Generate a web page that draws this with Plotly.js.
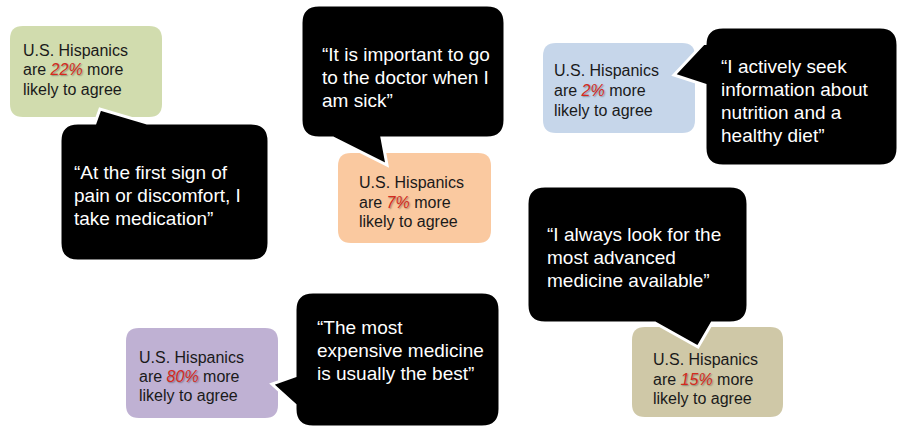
<!DOCTYPE html>
<html>
<head>
<meta charset="utf-8">
<script src="https://cdn.plot.ly/plotly-3.0.1.min.js"></script>
<style>
  html, body { margin: 0; padding: 0; background: #ffffff; }
  #chart { width: 897px; height: 427px; }
</style>
</head>
<body>
<div id="chart"></div>
<script>
// ---- data ----
const statementLines = [
  ["\u201cAt the first sign of", "pain or discomfort, I", "take medication\u201d"],
  ["\u201cIt is important to go", "to the doctor when I", "am sick\u201d"],
  ["\u201cI actively seek", "information about", "nutrition and a", "healthy diet\u201d"],
  ["\u201cThe most", "expensive medicine", "is usually the best\u201d"],
  ["\u201cI always look for the", "most advanced", "medicine available\u201d"]
];
const percents = [22, 7, 2, 80, 15];
const groupLine1 = "U.S. Hispanics";
const groupLine2Pre = "are ";
const groupLine2Post = " more";
const groupLine3 = "likely to agree";
const fillColors = ["#D1DCAE", "#FAC9A0", "#C6D6EA", "#BFB1D3", "#CFC8A7"];

// ---- geometry (pixel layout of the infographic) ----
const geom = [
  { light: {x0: 10, y0: 26, x1: 162, y1: 117, tx: 22, base: [56, 75.5, 95]},
    dark:  {x0: 60, y0: 123, x1: 269, y1: 261, tx: 73, base: [179, 202, 225],
            tail: {side: "top", a: 95, b: 147, tip: [100, 109]}} },
  { light: {x0: 338, y0: 153, x1: 491, y1: 243, tx: 358, base: [188, 208, 227.5]},
    dark:  {x0: 301, y0: 5, x1: 505, y1: 138, tx: 321, base: [61.5, 84.5, 107.5],
            tail: {side: "bottom", a: 333, b: 382, tip: [387, 165]}} },
  { light: {x0: 543, y0: 43, x1: 695, y1: 133, tx: 553, base: [76.5, 96.5, 116]},
    dark:  {x0: 705, y0: 27, x1: 898, y1: 166, tx: 720, base: [73, 96.5, 119.5, 142],
            tail: {side: "left", a: 42, b: 85, tip: [674, 75]}} },
  { light: {x0: 126, y0: 328, x1: 278, y1: 418, tx: 138, base: [363, 382.5, 401.5]},
    dark:  {x0: 295, y0: 292, x1: 500, y1: 427, tx: 316, base: [334, 357, 380],
            tail: {side: "left", a: 376, b: 405, tip: [272, 384]}} },
  { light: {x0: 632, y0: 327, x1: 783, y1: 417, tx: 652, base: [365, 385, 404.5]},
    dark:  {x0: 527, y0: 186, x1: 748, y1: 323, tx: 546, base: [241.5, 264.5, 287],
            tail: {side: "bottom", a: 655, b: 712, tip: [698, 347]}} }
];

function bubblePath(b, r, tail) {
  const {x0, y0, x1, y1} = b;
  let p = `M${x0 + r},${y0}`;
  if (tail && tail.side === "top") p += ` L${tail.a},${y0} L${tail.tip[0]},${tail.tip[1]} L${tail.b},${y0}`;
  p += ` L${x1 - r},${y0} Q${x1},${y0} ${x1},${y0 + r}`;
  if (tail && tail.side === "right") p += ` L${x1},${tail.a} L${tail.tip[0]},${tail.tip[1]} L${x1},${tail.b}`;
  p += ` L${x1},${y1 - r} Q${x1},${y1} ${x1 - r},${y1}`;
  if (tail && tail.side === "bottom") p += ` L${tail.b},${y1} L${tail.tip[0]},${tail.tip[1]} L${tail.a},${y1}`;
  p += ` L${x0 + r},${y1} Q${x0},${y1} ${x0},${y1 - r}`;
  if (tail && tail.side === "left") p += ` L${x0},${tail.b} L${tail.tip[0]},${tail.tip[1]} L${x0},${tail.a}`;
  p += ` L${x0},${y0 + r} Q${x0},${y0} ${x0 + r},${y0} Z`;
  return p;
}

const FONT = "Liberation Sans, Arial, Helvetica, sans-serif";
const shapes = [];
const annotations = [];

function addLine(text, x, baseline, size, color) {
  annotations.push({
    x: x, y: baseline - 0.3465 * size, xref: "x", yref: "y",
    xanchor: "left", yanchor: "middle", showarrow: false, align: "left",
    text: text, borderpad: 0,
    font: {family: FONT, size: size, color: color}
  });
}

geom.forEach((g, i) => {
  shapes.push({
    type: "path", xref: "x", yref: "y", layer: "above",
    path: bubblePath(g.light, 13),
    fillcolor: fillColors[i], line: {width: 0}
  });
  const pct = `<span style="color:#D42A1E;text-shadow:1px 1px 1.5px rgba(0,0,0,0.35)"><i>${percents[i]}%</i></span>`;
  const lightLines = [groupLine1, groupLine2Pre + pct + groupLine2Post, groupLine3];
  lightLines.forEach((t, k) => addLine(t, g.light.tx, g.light.base[k], 16, "#1a1a1a"));
});

geom.forEach((g, i) => {
  shapes.push({
    type: "path", xref: "x", yref: "y", layer: "above",
    path: bubblePath(g.dark, 18, g.dark.tail),
    fillcolor: "#000000", line: {width: 3, color: "#ffffff"}
  });
  statementLines[i].forEach((t, k) => addLine(t, g.dark.tx, g.dark.base[k], 19, "#ffffff"));
});

const layout = {
  width: 897, height: 427,
  margin: {l: 0, r: 0, t: 0, b: 0, pad: 0},
  paper_bgcolor: "#ffffff", plot_bgcolor: "#ffffff",
  showlegend: false,
  xaxis: {range: [0, 897], visible: false, fixedrange: true},
  yaxis: {range: [427, 0], visible: false, fixedrange: true},
  shapes: shapes,
  annotations: annotations
};

Plotly.newPlot("chart", [{x: [], y: [], type: "scatter", mode: "markers", hoverinfo: "skip"}], layout,
  {staticPlot: true, displayModeBar: false});
</script>
</body>
</html>
